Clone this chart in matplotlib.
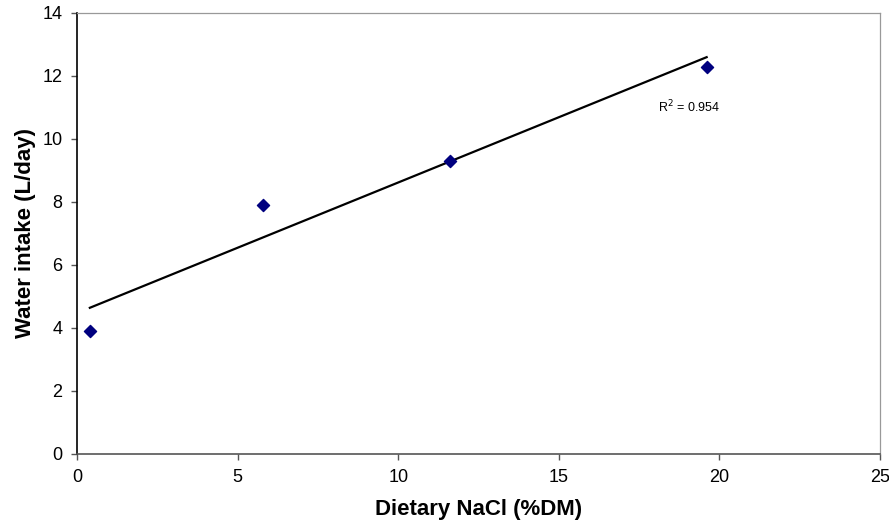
import numpy as np
import matplotlib
matplotlib.use("Agg")
import matplotlib.pyplot as plt

plt.rcParams['font.family'] = ['Liberation Sans', 'DejaVu Sans']

nacl = [0.4, 5.8, 11.6, 19.6]
water = [3.9, 7.9, 9.3, 12.3]
r2_label = "R$^2$ = 0.954"
xticks = [0, 5, 10, 15, 20, 25]
yticks = [0, 2, 4, 6, 8, 10, 12, 14]

fig = plt.figure(figsize=(8.89, 5.26), dpi=100)
ax = fig.add_axes([0.0866, 0.1369, 0.9034, 0.8384])

slope, intercept = np.polyfit(nacl, water, 1)
xs = np.array([min(nacl), max(nacl)])
ax.plot(xs, slope * xs + intercept, color='black', lw=1.6, zorder=2)
ax.scatter(nacl, water, marker='D', s=38, color='#00007F', zorder=3)

ax.text(18.1, 11.0, r2_label, fontsize=9, ha='left', va='center')

ax.set_xlim(0, 25)
ax.set_ylim(0, 14)
ax.set_xticks(xticks)
ax.set_yticks(yticks)
ax.tick_params(direction='out', length=4, labelsize=13, width=1, colors='#555555', labelcolor='black')
ax.tick_params(axis='x', pad=7)
ax.tick_params(axis='y', pad=6.5)
ax.spines['left'].set_color('black')
ax.spines['bottom'].set_color('#555555')
ax.spines['top'].set_color('#999999')
ax.spines['right'].set_color('#999999')
for s in ax.spines.values():
    s.set_linewidth(1.2)
ax.spines['top'].set_linewidth(0.9)
ax.spines['right'].set_linewidth(0.9)

ax.set_xlabel('Dietary NaCl (%DM)', fontsize=16, fontweight='bold', labelpad=9)
ax.set_ylabel('Water intake (L/day)', fontsize=16, fontweight='bold', labelpad=4.7)

fig.savefig('out.png', dpi=100)
